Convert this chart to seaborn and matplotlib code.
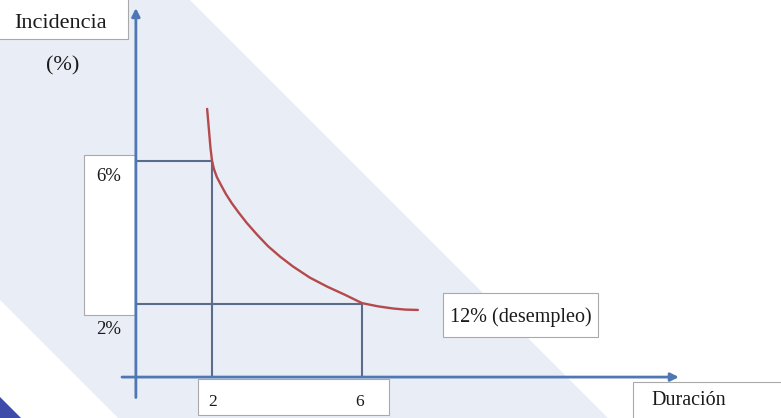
import matplotlib.pyplot as plt
from matplotlib.patches import Rectangle, Polygon
import seaborn as sns

# curve: duration (x) vs incidence in % (y)
duracion = [1.87, 1.90, 1.93, 1.96, 2.0, 2.05, 2.13, 2.24, 2.37, 2.53, 2.72, 2.93,
            3.2, 3.49, 3.81, 4.16, 4.61, 5.07, 5.55, 6.0, 6.43, 6.83, 7.15, 7.49]
incidencia = [7.44, 7.08, 6.71, 6.35, 6.0, 5.77, 5.54, 5.32, 5.07, 4.81, 4.54, 4.26,
              3.94, 3.62, 3.33, 3.05, 2.74, 2.49, 2.26, 2.03, 1.94, 1.88, 1.85, 1.84]

# the two marked points on the curve
marca_x = [2, 6]
marca_y = [6, 2]
etiquetas_x = ['2', '6']
etiquetas_y = ['6%', '2%']
etiqueta_curva = '12% (desempleo)'

W, H = 781, 418
sns.set_style('white')
plt.rcParams['font.family'] = ['Liberation Serif', 'DejaVu Serif']

fig = plt.figure(figsize=(W / 100, H / 100), dpi=100)
fig.patch.set_facecolor('#e9edf6')
ax = fig.add_axes([0, 0, 1, 1])
# origin sits at pixel (137, 376); 37.5 px per unit on x, 35.9 px per unit on y
ax.set_xlim(-137 / 37.5, (W - 137) / 37.5)
ax.set_ylim(-(H - 376) / 35.9, 376 / 35.9)
ax.axis('off')


def px(x, y):
    # pixel position -> axes fraction (axes fills the figure)
    return (x / W, 1 - y / H)


def caja(x0, y0, x1, y1):
    ax.add_patch(Rectangle(px(x0, y1), (x1 - x0) / W, (y1 - y0) / H, transform=ax.transAxes,
                           facecolor='white', edgecolor='#a9a9a9', lw=0.8, zorder=1))


# background band
ax.add_patch(Polygon([px(190, 0), px(781, 0), px(781, 418), px(608, 418)], closed=True,
                     transform=ax.transAxes, facecolor='white', edgecolor='none', zorder=0))
ax.add_patch(Polygon([px(0, 300), px(118, 418), px(21, 418), px(0, 397)], closed=True,
                     transform=ax.transAxes, facecolor='white', edgecolor='none', zorder=0))
ax.add_patch(Polygon([px(0, 397), px(21, 418), px(0, 418)], closed=True,
                     transform=ax.transAxes, facecolor='#3d4ca8', edgecolor='none', zorder=0))

# label boxes
caja(-5, -5, 128, 39)
caja(84, 155, 135, 315)
caja(198, 379, 389, 415)
caja(443, 293, 598, 337)
caja(633, 382, 800, 430)

# axes with arrows
eje = '#4f77b3'
ax.annotate('', xy=(-0.03, 10.25), xytext=(-0.03, -0.6),
            arrowprops=dict(arrowstyle='-|>', color=eje, lw=2.0, mutation_scale=12,
                            shrinkA=0, shrinkB=0), zorder=3)
ax.annotate('', xy=(14.45, -0.03), xytext=(-0.4, -0.03),
            arrowprops=dict(arrowstyle='-|>', color=eje, lw=2.0, mutation_scale=12,
                            shrinkA=0, shrinkB=0), zorder=3)

# guide lines to the marked points
guia = '#5b6b8a'
ax.hlines(marca_y, 0, marca_x, color=guia, lw=1.5, zorder=2)
ax.vlines(marca_x, 0, marca_y, color=guia, lw=1.5, zorder=2)

# curve
sns.lineplot(x=duracion, y=incidencia, ax=ax, color='#b5494b', lw=1.7, zorder=4)

# texts
t = dict(transform=ax.transAxes, color='#1a1a1a', va='baseline', ha='center', zorder=5)
ax.text(*px(61, 28), 'Incidencia', fontsize=16, **t)
ax.text(*px(63, 70), '(%)', fontsize=16, **t)
for lab, yy in zip(etiquetas_y, [181, 334]):
    ax.text(*px(109, yy), lab, fontsize=13.5, **t)
for lab, xx in zip(etiquetas_x, [213, 360]):
    ax.text(*px(xx, 406), lab, fontsize=12.5, **t)
ax.text(*px(521, 322), etiqueta_curva, fontsize=14.5, **t)
ax.text(*px(689, 405), 'Duración', fontsize=14.5, **t)

fig.savefig('out.png', dpi=100)
